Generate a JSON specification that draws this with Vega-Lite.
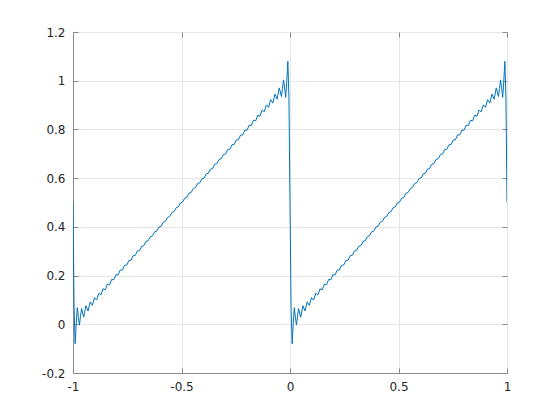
{
  "$schema": "https://vega.github.io/schema/vega-lite/v6.json",
  "width": 434,
  "height": 341,
  "autosize": {"type": "none"},
  "padding": {"left": 73, "top": 32, "right": 53, "bottom": 47},
  "background": "white",
  "config": {
    "view": {"stroke": "#8a8a8a", "strokeWidth": 1},
    "axis": {
      "labelFont": "DejaVu Sans",
      "labelFontSize": 12,
      "labelColor": "#262626",
      "domainColor": "#8a8a8a",
      "tickColor": "#8a8a8a",
      "gridColor": "#e6e6e6",
      "gridWidth": 1,
      "tickSize": -5,
      "labelPadding": 13,
      "title": null
    }
  },
  "data": {"values": [
    {"x": -1, "y": 0.5},
    {"x": -0.99505, "y": 0.0687},
    {"x": -0.9901, "y": -0.0796},
    {"x": -0.98515, "y": 0.0029},
    {"x": -0.9802, "y": 0.0684},
    {"x": -0.97525, "y": 0.0295},
    {"x": -0.9703, "y": -0.0034},
    {"x": -0.96535, "y": 0.0322},
    {"x": -0.9604, "y": 0.0646},
    {"x": -0.95545, "y": 0.0461},
    {"x": -0.9505, "y": 0.0292},
    {"x": -0.9406, "y": 0.0764},
    {"x": -0.9307, "y": 0.0546},
    {"x": -0.9208, "y": 0.0921},
    {"x": -0.9109, "y": 0.0776},
    {"x": -0.901, "y": 0.1094},
    {"x": -0.8911, "y": 0.0994},
    {"x": -0.8812, "y": 0.1275},
    {"x": -0.8713, "y": 0.1206},
    {"x": -0.8614, "y": 0.1461},
    {"x": -0.8515, "y": 0.1414},
    {"x": -0.8416, "y": 0.1651},
    {"x": -0.8317, "y": 0.162},
    {"x": -0.8218, "y": 0.1842},
    {"x": -0.8119, "y": 0.1824},
    {"x": -0.802, "y": 0.2035},
    {"x": -0.7921, "y": 0.2027},
    {"x": -0.7822, "y": 0.2228},
    {"x": -0.7723, "y": 0.2228},
    {"x": -0.7624, "y": 0.2423},
    {"x": -0.7525, "y": 0.243},
    {"x": -0.7426, "y": 0.2618},
    {"x": -0.7327, "y": 0.263},
    {"x": -0.7228, "y": 0.2814},
    {"x": -0.7129, "y": 0.283},
    {"x": -0.703, "y": 0.301},
    {"x": -0.6931, "y": 0.303},
    {"x": -0.6832, "y": 0.3206},
    {"x": -0.6733, "y": 0.323},
    {"x": -0.6634, "y": 0.3403},
    {"x": -0.6535, "y": 0.3429},
    {"x": -0.6436, "y": 0.3599},
    {"x": -0.6337, "y": 0.3628},
    {"x": -0.6238, "y": 0.3796},
    {"x": -0.6139, "y": 0.3827},
    {"x": -0.604, "y": 0.3994},
    {"x": -0.5941, "y": 0.4026},
    {"x": -0.5842, "y": 0.4191},
    {"x": -0.5743, "y": 0.4224},
    {"x": -0.5644, "y": 0.4388},
    {"x": -0.5545, "y": 0.4423},
    {"x": -0.5446, "y": 0.4586},
    {"x": -0.5347, "y": 0.4621},
    {"x": -0.5248, "y": 0.4784},
    {"x": -0.5149, "y": 0.4819},
    {"x": -0.505, "y": 0.4982},
    {"x": -0.495, "y": 0.5018},
    {"x": -0.4851, "y": 0.5181},
    {"x": -0.4752, "y": 0.5216},
    {"x": -0.4653, "y": 0.5379},
    {"x": -0.4554, "y": 0.5414},
    {"x": -0.4455, "y": 0.5577},
    {"x": -0.4356, "y": 0.5611},
    {"x": -0.4257, "y": 0.5776},
    {"x": -0.4158, "y": 0.5809},
    {"x": -0.4059, "y": 0.5974},
    {"x": -0.396, "y": 0.6006},
    {"x": -0.3861, "y": 0.6173},
    {"x": -0.3762, "y": 0.6204},
    {"x": -0.3663, "y": 0.6372},
    {"x": -0.3564, "y": 0.6401},
    {"x": -0.3465, "y": 0.6571},
    {"x": -0.3366, "y": 0.6597},
    {"x": -0.3267, "y": 0.677},
    {"x": -0.3168, "y": 0.6794},
    {"x": -0.3069, "y": 0.697},
    {"x": -0.297, "y": 0.699},
    {"x": -0.2871, "y": 0.717},
    {"x": -0.2772, "y": 0.7186},
    {"x": -0.2673, "y": 0.737},
    {"x": -0.2574, "y": 0.7382},
    {"x": -0.2475, "y": 0.757},
    {"x": -0.2376, "y": 0.7577},
    {"x": -0.2277, "y": 0.7772},
    {"x": -0.2178, "y": 0.7772},
    {"x": -0.2079, "y": 0.7973},
    {"x": -0.198, "y": 0.7965},
    {"x": -0.1881, "y": 0.8176},
    {"x": -0.1782, "y": 0.8158},
    {"x": -0.1683, "y": 0.838},
    {"x": -0.1584, "y": 0.8349},
    {"x": -0.1485, "y": 0.8586},
    {"x": -0.1386, "y": 0.8539},
    {"x": -0.1287, "y": 0.8794},
    {"x": -0.1188, "y": 0.8725},
    {"x": -0.1089, "y": 0.9006},
    {"x": -0.099, "y": 0.8906},
    {"x": -0.0891, "y": 0.9222},
    {"x": -0.0792, "y": 0.9081},
    {"x": -0.0693, "y": 0.9452},
    {"x": -0.0594, "y": 0.9237},
    {"x": -0.0495, "y": 0.9706},
    {"x": -0.04455, "y": 0.954},
    {"x": -0.0396, "y": 0.9354},
    {"x": -0.03465, "y": 0.9679},
    {"x": -0.0297, "y": 1.0034},
    {"x": -0.02475, "y": 0.9706},
    {"x": -0.0198, "y": 0.9316},
    {"x": -0.01485, "y": 0.9972},
    {"x": -0.0099, "y": 1.0796},
    {"x": -0.00495, "y": 0.9313},
    {"x": 0, "y": 0.5},
    {"x": 0.00495, "y": 0.0687},
    {"x": 0.0099, "y": -0.0796},
    {"x": 0.01485, "y": 0.0029},
    {"x": 0.0198, "y": 0.0684},
    {"x": 0.02475, "y": 0.0295},
    {"x": 0.0297, "y": -0.0034},
    {"x": 0.03465, "y": 0.0322},
    {"x": 0.0396, "y": 0.0646},
    {"x": 0.04455, "y": 0.0461},
    {"x": 0.0495, "y": 0.0292},
    {"x": 0.0594, "y": 0.0764},
    {"x": 0.0693, "y": 0.0546},
    {"x": 0.0792, "y": 0.0921},
    {"x": 0.0891, "y": 0.0776},
    {"x": 0.099, "y": 0.1094},
    {"x": 0.1089, "y": 0.0994},
    {"x": 0.1188, "y": 0.1275},
    {"x": 0.1287, "y": 0.1206},
    {"x": 0.1386, "y": 0.1461},
    {"x": 0.1485, "y": 0.1414},
    {"x": 0.1584, "y": 0.1651},
    {"x": 0.1683, "y": 0.162},
    {"x": 0.1782, "y": 0.1842},
    {"x": 0.1881, "y": 0.1824},
    {"x": 0.198, "y": 0.2035},
    {"x": 0.2079, "y": 0.2027},
    {"x": 0.2178, "y": 0.2228},
    {"x": 0.2277, "y": 0.2228},
    {"x": 0.2376, "y": 0.2423},
    {"x": 0.2475, "y": 0.243},
    {"x": 0.2574, "y": 0.2618},
    {"x": 0.2673, "y": 0.263},
    {"x": 0.2772, "y": 0.2814},
    {"x": 0.2871, "y": 0.283},
    {"x": 0.297, "y": 0.301},
    {"x": 0.3069, "y": 0.303},
    {"x": 0.3168, "y": 0.3206},
    {"x": 0.3267, "y": 0.323},
    {"x": 0.3366, "y": 0.3403},
    {"x": 0.3465, "y": 0.3429},
    {"x": 0.3564, "y": 0.3599},
    {"x": 0.3663, "y": 0.3628},
    {"x": 0.3762, "y": 0.3796},
    {"x": 0.3861, "y": 0.3827},
    {"x": 0.396, "y": 0.3994},
    {"x": 0.4059, "y": 0.4026},
    {"x": 0.4158, "y": 0.4191},
    {"x": 0.4257, "y": 0.4224},
    {"x": 0.4356, "y": 0.4388},
    {"x": 0.4455, "y": 0.4423},
    {"x": 0.4554, "y": 0.4586},
    {"x": 0.4653, "y": 0.4621},
    {"x": 0.4752, "y": 0.4784},
    {"x": 0.4851, "y": 0.4819},
    {"x": 0.495, "y": 0.4982},
    {"x": 0.505, "y": 0.5018},
    {"x": 0.5149, "y": 0.5181},
    {"x": 0.5248, "y": 0.5216},
    {"x": 0.5347, "y": 0.5379},
    {"x": 0.5446, "y": 0.5414},
    {"x": 0.5545, "y": 0.5577},
    {"x": 0.5644, "y": 0.5611},
    {"x": 0.5743, "y": 0.5776},
    {"x": 0.5842, "y": 0.5809},
    {"x": 0.5941, "y": 0.5974},
    {"x": 0.604, "y": 0.6006},
    {"x": 0.6139, "y": 0.6173},
    {"x": 0.6238, "y": 0.6204},
    {"x": 0.6337, "y": 0.6372},
    {"x": 0.6436, "y": 0.6401},
    {"x": 0.6535, "y": 0.6571},
    {"x": 0.6634, "y": 0.6597},
    {"x": 0.6733, "y": 0.677},
    {"x": 0.6832, "y": 0.6794},
    {"x": 0.6931, "y": 0.697},
    {"x": 0.703, "y": 0.699},
    {"x": 0.7129, "y": 0.717},
    {"x": 0.7228, "y": 0.7186},
    {"x": 0.7327, "y": 0.737},
    {"x": 0.7426, "y": 0.7382},
    {"x": 0.7525, "y": 0.757},
    {"x": 0.7624, "y": 0.7577},
    {"x": 0.7723, "y": 0.7772},
    {"x": 0.7822, "y": 0.7772},
    {"x": 0.7921, "y": 0.7973},
    {"x": 0.802, "y": 0.7965},
    {"x": 0.8119, "y": 0.8176},
    {"x": 0.8218, "y": 0.8158},
    {"x": 0.8317, "y": 0.838},
    {"x": 0.8416, "y": 0.8349},
    {"x": 0.8515, "y": 0.8586},
    {"x": 0.8614, "y": 0.8539},
    {"x": 0.8713, "y": 0.8794},
    {"x": 0.8812, "y": 0.8725},
    {"x": 0.8911, "y": 0.9006},
    {"x": 0.901, "y": 0.8906},
    {"x": 0.9109, "y": 0.9222},
    {"x": 0.9208, "y": 0.9081},
    {"x": 0.9307, "y": 0.9452},
    {"x": 0.9406, "y": 0.9237},
    {"x": 0.9505, "y": 0.9706},
    {"x": 0.95545, "y": 0.954},
    {"x": 0.9604, "y": 0.9354},
    {"x": 0.96535, "y": 0.9679},
    {"x": 0.9703, "y": 1.0034},
    {"x": 0.97525, "y": 0.9706},
    {"x": 0.9802, "y": 0.9316},
    {"x": 0.98515, "y": 0.9972},
    {"x": 0.9901, "y": 1.0796},
    {"x": 0.99505, "y": 0.9313},
    {"x": 1, "y": 0.5}
  ]},
  "layer": [
    {
      "mark": {"type": "line", "color": "#0072BD", "strokeWidth": 1, "clip": true},
      "encoding": {
        "x": {
          "field": "x", "type": "quantitative",
          "scale": {"domain": [-1, 1], "nice": false, "zero": false},
          "axis": {"orient": "bottom", "values": [-1, -0.5, 0, 0.5, 1], "grid": true, "labelExpr": "'' + datum.value", "labelFlush": false}
        },
        "y": {
          "field": "y", "type": "quantitative",
          "scale": {"domain": [-0.2, 1.2], "nice": false, "zero": false},
          "axis": {"orient": "left", "values": [-0.2, 0, 0.2, 0.4, 0.6, 0.8, 1, 1.2], "grid": true, "labelExpr": "'' + datum.value", "labelFlush": false}
        }
      }
    },
    {
      "mark": {"type": "line", "strokeOpacity": 0},
      "encoding": {
        "x": {
          "field": "x", "type": "quantitative",
          "axis": {"orient": "top", "values": [-1, -0.5, 0, 0.5, 1], "grid": false, "labels": false, "domain": false}
        },
        "y": {
          "field": "y", "type": "quantitative",
          "axis": {"orient": "right", "values": [-0.2, 0, 0.2, 0.4, 0.6, 0.8, 1, 1.2], "grid": false, "labels": false, "domain": false}
        }
      }
    }
  ],
  "resolve": {"axis": {"x": "independent", "y": "independent"}}
}
